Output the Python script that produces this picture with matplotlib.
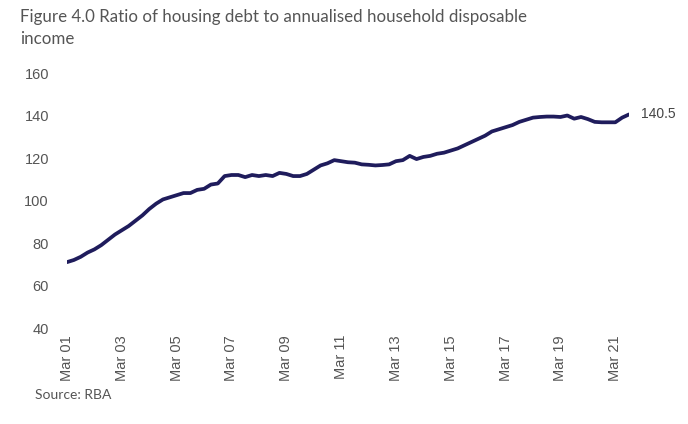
import matplotlib
matplotlib.use("Agg")
import matplotlib.pyplot as plt

# quarterly ratio, Mar 2001 .. Sep 2021
ratio = [
    71.0, 72.0, 73.5, 75.5,      # 2001
    77.0, 79.0, 81.5, 84.0,      # 2002
    86.0, 88.0, 90.5, 93.0,      # 2003
    96.0, 98.5, 100.5, 101.5,    # 2004
    102.5, 103.5, 103.5, 105.0,  # 2005
    105.5, 107.5, 108.0, 111.5,  # 2006
    112.0, 112.0, 111.0, 112.0,  # 2007
    111.5, 112.0, 111.5, 113.0,  # 2008
    112.5, 111.5, 111.5, 112.5,  # 2009
    114.5, 116.5, 117.5, 119.0,  # 2010
    118.5, 118.0, 117.8, 117.0,  # 2011
    116.8, 116.5, 116.7, 117.0,  # 2012
    118.5, 119.0, 121.0, 119.5,  # 2013
    120.5, 121.0, 122.0, 122.5,  # 2014
    123.5, 124.5, 126.0, 127.5,  # 2015
    129.0, 130.5, 132.5, 133.5,  # 2016
    134.5, 135.5, 137.0, 138.0,  # 2017
    139.0, 139.3, 139.5, 139.5,  # 2018
    139.3, 140.0, 138.5, 139.3,  # 2019
    138.3, 137.0, 136.8, 136.8,  # 2020
    136.8, 139.0, 140.5,         # 2021
]
start_year = 2001
tick_every = 8  # every two years, March quarter
last_label = "140.5"

title = "Figure 4.0 Ratio of housing debt to annualised household disposable\nincome"
source = "Source: RBA"

x = list(range(len(ratio)))
tick_pos = x[::tick_every]
tick_lab = [f"Mar {(start_year + i // 4) % 100:02d}" for i in tick_pos]

fig = plt.figure(figsize=(6.88, 4.24), dpi=100)
ax = fig.add_axes([67 / 688, 1 - 328 / 424, 562 / 688, 255 / 424])
ax.plot(x, ratio, color="#1f1c5c", lw=2.7, solid_capstyle="round")
ax.set_xlim(0, len(ratio) - 1)
ax.set_ylim(40, 160)
ax.set_yticks(range(40, 161, 20))
ax.set_xticks(tick_pos)
ax.set_xticklabels(tick_lab, rotation=90)
for s in ax.spines.values():
    s.set_visible(False)
ax.tick_params(length=0, colors="#555555", labelsize=10.5)
ax.tick_params(axis="y", pad=13)
ax.tick_params(axis="x", pad=5)
for lab in ax.get_xticklabels() + ax.get_yticklabels():
    lab.set_family("Liberation Sans")

ax.annotate(last_label, xy=(x[-1], ratio[-1]), xytext=(9, 0),
            textcoords="offset points", va="center", ha="left",
            fontsize=10, color="#444444", family="Liberation Sans")

fig.text(20 / 688, 1 - 9 / 424, title, ha="left", va="top", fontsize=12.2,
         color="#555555", family="Lato", linespacing=1.45)
fig.text(35 / 688, 1 - 395 / 424, source, ha="left", va="center",
         fontsize=10, color="#555555", family="Lato")

fig.savefig("out.png", dpi=100)
